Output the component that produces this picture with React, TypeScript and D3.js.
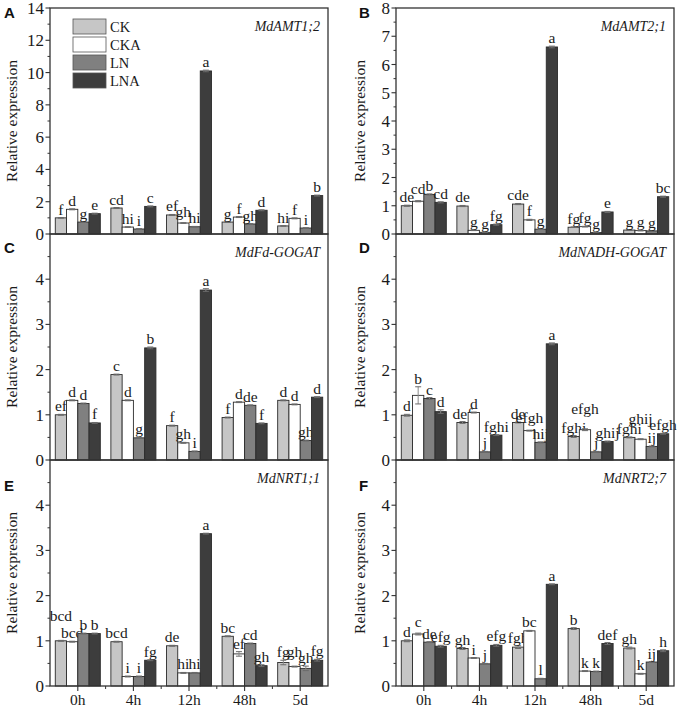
import React from "react";
import * as d3 from "d3";

const timePoints = ["0h", "4h", "12h", "48h", "5d"];
const treatments = ["CK", "CKA", "LN", "LNA"];
const treatmentColors = ["#c6c6c6", "#ffffff", "#808080", "#3d3d3d"];

// rows = time points, columns = CK, CKA, LN, LNA
const amt12Values = [
  [1.0, 1.53, 0.74, 1.26],
  [1.61, 0.43, 0.31, 1.71],
  [1.18, 0.68, 0.45, 10.1],
  [0.74, 1.05, 0.62, 1.47],
  [0.5, 0.97, 0.37, 2.38],
];
const amt12Errors = [
  [0.02, 0.03, 0.02, 0.03],
  [0.03, 0.02, 0.02, 0.03],
  [0.03, 0.02, 0.02, 0.05],
  [0.02, 0.03, 0.02, 0.03],
  [0.02, 0.03, 0.02, 0.03],
];
const amt12Letters = [
  ["f", "d", "g", "e"],
  ["cd", "hi", "i", "c"],
  ["ef", "gh", "hi", "a"],
  ["g", "f", "gh", "d"],
  ["hi", "f", "i", "b"],
];

const amt21Values = [
  [1.0, 1.16, 1.4, 1.12],
  [0.99, 0.13, 0.06, 0.33],
  [1.06, 0.5, 0.17, 6.62],
  [0.24, 0.26, 0.05, 0.78],
  [0.14, 0.12, 0.11, 1.32],
];
const amt21Errors = [
  [0.02, 0.02, 0.02, 0.02],
  [0.02, 0.01, 0.01, 0.02],
  [0.02, 0.02, 0.01, 0.03],
  [0.01, 0.01, 0.01, 0.02],
  [0.01, 0.01, 0.01, 0.02],
];
const amt21Letters = [
  ["de", "cd", "b", "cd"],
  ["de", "g", "g", "fg"],
  ["cde", "f", "g", "a"],
  ["fg", "fg", "g", "e"],
  ["g", "g", "g", "bc"],
];

const fdGogatValues = [
  [1.0, 1.32, 1.25, 0.82],
  [1.89, 1.32, 0.49, 2.48],
  [0.76, 0.38, 0.19, 3.76],
  [0.94, 1.28, 1.21, 0.81],
  [1.32, 1.23, 0.43, 1.39],
];
const fdGogatErrors = [
  [0.01, 0.01, 0.01, 0.01],
  [0.01, 0.01, 0.01, 0.02],
  [0.01, 0.01, 0.01, 0.03],
  [0.01, 0.01, 0.01, 0.01],
  [0.01, 0.01, 0.01, 0.01],
];
const fdGogatLetters = [
  ["ef", "d", "d", "f"],
  ["c", "d", "g", "b"],
  ["f", "gh", "i", "a"],
  ["f", "d", "de", "f"],
  ["d", "d", "gh", "d"],
];

const nadhGogatValues = [
  [0.99, 1.43, 1.36, 1.07],
  [0.83, 1.05, 0.18, 0.55],
  [0.83, 0.65, 0.39, 2.57],
  [0.52, 0.67, 0.18, 0.41],
  [0.5, 0.46, 0.3, 0.58],
];
const nadhGogatErrors = [
  [0.02, 0.19, 0.02, 0.04],
  [0.02, 0.01, 0.01, 0.01],
  [0.01, 0.01, 0.01, 0.02],
  [0.02, 0.02, 0.01, 0.01],
  [0.01, 0.01, 0.01, 0.01],
];
const nadhGogatLetters = [
  ["d", "b", "c", "d"],
  ["def", "d", "j", "fghi"],
  ["de", "efgh", "hij", "a"],
  ["fghi", "efgh", "j", "ghij"],
  ["fghi", "ghij", "ij", "efgh"],
];

const nrt11Values = [
  [1.0, 0.98, 1.16, 1.16],
  [0.98, 0.21, 0.21, 0.57],
  [0.89, 0.29, 0.29, 3.37],
  [1.1, 0.71, 0.94, 0.45],
  [0.52, 0.43, 0.39, 0.57],
];
const nrt11Errors = [
  [0.01, 0.01, 0.01, 0.01],
  [0.01, 0.01, 0.01, 0.01],
  [0.01, 0.01, 0.01, 0.01],
  [0.01, 0.05, 0.01, 0.02],
  [0.05, 0.01, 0.05, 0.02],
];
const nrt11Letters = [
  ["bcd", "bcd", "b", "b"],
  ["bcd", "i", "i", "fg"],
  ["de", "hi", "hi", "a"],
  ["bc", "ef", "cd", "gh"],
  ["fg", "gh", "gh", "fg"],
];

const nrt27Values = [
  [1.0, 1.15, 0.97, 0.88],
  [0.83, 0.62, 0.49, 0.9],
  [0.86, 1.22, 0.16, 2.25],
  [1.27, 0.33, 0.32, 0.94],
  [0.84, 0.27, 0.53, 0.78],
];
const nrt27Errors = [
  [0.02, 0.02, 0.01, 0.02],
  [0.02, 0.01, 0.01, 0.02],
  [0.03, 0.01, 0.01, 0.01],
  [0.02, 0.01, 0.01, 0.02],
  [0.02, 0.01, 0.01, 0.02],
];
const nrt27Letters = [
  ["d", "c", "de", "efg"],
  ["gh", "i", "j", "efg"],
  ["fgh", "bc", "l", "a"],
  ["b", "k", "k", "def"],
  ["gh", "k", "ij", "h"],
];

type PanelSpec = {
  letter: string;
  gene: string;
  values: number[][];
  errors: number[][];
  letters: string[][];
  yMax: number;
  labelStep: number;
  minorStep: number;
  labelMax: number;
  col: number;
  row: number;
  letterY: number;
  legend?: boolean;
  xLabels?: boolean;
};

const panels: PanelSpec[] = [
  { letter: "A", gene: "MdAMT1;2", values: amt12Values, errors: amt12Errors, letters: amt12Letters, yMax: 14, labelStep: 2, minorStep: 1, labelMax: 14, col: 0, row: 0, letterY: 18, legend: true },
  { letter: "B", gene: "MdAMT2;1", values: amt21Values, errors: amt21Errors, letters: amt21Letters, yMax: 8, labelStep: 1, minorStep: 0.5, labelMax: 8, col: 1, row: 0, letterY: 18 },
  { letter: "C", gene: "MdFd-GOGAT", values: fdGogatValues, errors: fdGogatErrors, letters: fdGogatLetters, yMax: 5, labelStep: 1, minorStep: 0.5, labelMax: 4, col: 0, row: 1, letterY: 253 },
  { letter: "D", gene: "MdNADH-GOGAT", values: nadhGogatValues, errors: nadhGogatErrors, letters: nadhGogatLetters, yMax: 5, labelStep: 1, minorStep: 0.5, labelMax: 4, col: 1, row: 1, letterY: 253 },
  { letter: "E", gene: "MdNRT1;1", values: nrt11Values, errors: nrt11Errors, letters: nrt11Letters, yMax: 5, labelStep: 1, minorStep: 0.5, labelMax: 4, col: 0, row: 2, letterY: 491, xLabels: true },
  { letter: "F", gene: "MdNRT2;7", values: nrt27Values, errors: nrt27Errors, letters: nrt27Letters, yMax: 5, labelStep: 1, minorStep: 0.5, labelMax: 4, col: 1, row: 2, letterY: 491, xLabels: true },
];

// extra vertical lift (px) for crowded significance letters, as staggered in the original
const letterLift: Record<string, number> = {
  "A-2-1": 3,
  "B-0-1": 4,
  "D-2-1": 4,
  "D-3-1": 12,
  "D-4-1": 12,
  "E-0-0": 16,
  "E-4-1": 6,
  "F-0-1": 3,
};

const colX = [
  { x0: 50, x1: 328, labelX: 17, letterX: 4 },
  { x0: 396, x1: 674, labelX: 365, letterX: 359 },
];
const rowY = [
  { y0: 8, y1: 234 },
  { y0: 234, y1: 460 },
  { y0: 460, y1: 686 },
];

const SERIF = "'Liberation Serif', 'Times New Roman', serif";
const SANS = "'Liberation Sans', Arial, sans-serif";
const AXIS = "#333";

function Panel({ p }: { p: PanelSpec }) {
  const { x0, x1, labelX, letterX } = colX[p.col];
  const { y0, y1 } = rowY[p.row];

  const x = d3.scaleBand<string>().domain(timePoints).range([x0, x1]).paddingInner(0.19).paddingOuter(0.095);
  const xi = d3.scaleBand<string>().domain(treatments).range([0, x.bandwidth()]);
  const y = d3.scaleLinear().domain([0, p.yMax]).range([y1, y0]);

  const labelTicks = d3.range(0, p.labelMax + 1e-9, p.labelStep);
  const minorTicks = d3.range(0, p.yMax + 1e-9, p.minorStep).filter(
    (v) => Math.abs(v / p.labelStep - Math.round(v / p.labelStep)) > 1e-6 && v < p.yMax - 1e-9
  );

  const step = x.step();

  return (
    <g>
      {timePoints.map((t, gi) => (
        <g key={t}>
          {treatments.map((tr, ti) => {
            const v = p.values[gi][ti];
            const e = p.errors[gi][ti];
            const bx = (x(t) as number) + (xi(tr) as number);
            const bw = xi.bandwidth();
            const cx = bx + bw / 2;
            const top = y(v);
            const etop = y(v + e);
            const ebot = y(Math.max(0, v - e));
            const lift = letterLift[`${p.letter}-${gi}-${ti}`] || 0;
            return (
              <g key={tr}>
                <rect x={bx} y={top} width={bw} height={y1 - top} fill={treatmentColors[ti]} stroke="#2b2b2b" strokeWidth={0.9} />
                <line x1={cx} x2={cx} y1={ebot} y2={etop} stroke="#8a8a8a" strokeWidth={1} />
                <line x1={cx - 3} x2={cx + 3} y1={etop} y2={etop} stroke="#6a6a6a" strokeWidth={1} />
                <line x1={cx - 3} x2={cx + 3} y1={ebot} y2={ebot} stroke="#6a6a6a" strokeWidth={1} />
                <text x={cx} y={etop - 3 - lift} textAnchor="middle" fontFamily={SERIF} fontSize={15.5} fill="#1a1a1a">
                  {p.letters[gi][ti]}
                </text>
              </g>
            );
          })}
        </g>
      ))}

      <rect x={x0} y={y0} width={x1 - x0} height={y1 - y0} fill="none" stroke={AXIS} strokeWidth={1.3} />

      {labelTicks.map((v) => (
        <g key={"l" + v}>
          <line x1={x0 - 4.5} x2={x0} y1={y(v)} y2={y(v)} stroke={AXIS} strokeWidth={1.1} />
          <text x={x0 - 6} y={y(v) + 6} textAnchor="end" fontFamily={SERIF} fontSize={17} fill="#1a1a1a">
            {d3.format("d")(v)}
          </text>
        </g>
      ))}
      {minorTicks.map((v) => (
        <line key={"m" + v} x1={x0 - 2.5} x2={x0} y1={y(v)} y2={y(v)} stroke={AXIS} strokeWidth={1} />
      ))}

      {p.xLabels &&
        timePoints.map((t, i) => {
          const c = (x(t) as number) + x.bandwidth() / 2;
          return (
            <g key={"x" + t}>
              <line x1={c} x2={c} y1={y1} y2={y1 + 5} stroke={AXIS} strokeWidth={1.1} />
              {i > 0 && (
                <line x1={c - step / 2} x2={c - step / 2} y1={y1} y2={y1 + 3} stroke={AXIS} strokeWidth={1} />
              )}
              <text x={c} y={y1 + 19} textAnchor="middle" fontFamily={SERIF} fontSize={15.5} fill="#1a1a1a">
                {t}
              </text>
            </g>
          );
        })}

      <text
        transform={`translate(${labelX},${(y0 + y1) / 2}) rotate(-90)`}
        textAnchor="middle"
        fontFamily={SERIF}
        fontSize={15.5}
        fill="#1a1a1a"
      >
        Relative expression
      </text>

      <text x={letterX} y={p.letterY} fontFamily={SANS} fontWeight="bold" fontSize={15} fill="#111">
        {p.letter}
      </text>

      <text x={x1 - 8} y={y0 + 23} textAnchor="end" fontFamily={SERIF} fontStyle="italic" fontSize={14} fill="#1a1a1a">
        {p.gene}
      </text>

      {p.legend &&
        treatments.map((tr, i) => (
          <g key={"lg" + tr}>
            <rect x={73} y={19 + i * 18} width={33} height={15} fill={treatmentColors[i]} stroke="#555" strokeWidth={0.8} />
            <text x={110} y={19 + i * 18 + 12.5} fontFamily={SERIF} fontSize={14.5} fill="#1a1a1a">
              {tr}
            </text>
          </g>
        ))}
    </g>
  );
}

export default function App() {
  return (
    <svg
      width={677}
      height={708}
      viewBox="0 0 677 708"
      style={{ position: "absolute", left: 0, top: 0, display: "block", background: "#fff" }}
    >
      <rect x={0} y={0} width={677} height={708} fill="#fff" />
      {panels.map((p) => (
        <Panel key={p.letter} p={p} />
      ))}
    </svg>
  );
}
